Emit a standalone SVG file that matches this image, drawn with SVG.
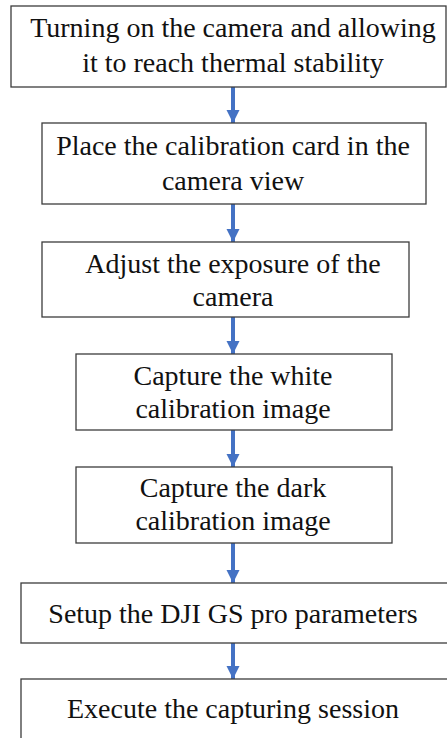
<svg xmlns="http://www.w3.org/2000/svg" width="447" height="738" viewBox="0 0 447 738">
  <style>
    .box { fill: #ffffff; stroke: #3c3c3c; stroke-width: 1.3; }
    text { font-family: "Liberation Serif", "Times New Roman", "DejaVu Serif", serif; font-size: 28px; fill: #111111; text-anchor: middle; }
    .flow { stroke: #4472c4; stroke-width: 4; fill: none; marker-end: url(#head); }
  </style>
  <defs>
    <!-- arrowhead pointing along the line direction; tip sits on the line end -->
    <marker id="head" markerUnits="userSpaceOnUse" markerWidth="14" markerHeight="14" viewBox="0 0 14 14" refX="13" refY="7" orient="auto">
      <path d="M0,0.5 L13,7 L0,13.5 Z" fill="#4472c4"/>
    </marker>
  </defs>
  <rect width="447" height="738" fill="#ffffff"/>

  <g id="connectors">
    <line class="flow" x1="233" y1="87" x2="233" y2="123"/>
    <line class="flow" x1="233" y1="204" x2="233" y2="242"/>
    <line class="flow" x1="233" y1="317" x2="233" y2="354"/>
    <line class="flow" x1="233" y1="430" x2="233" y2="467"/>
    <line class="flow" x1="233" y1="543" x2="233" y2="583"/>
    <line class="flow" x1="233" y1="643" x2="233" y2="679"/>
  </g>

  <g id="step1">
    <rect class="box" x="11" y="6" width="435" height="81"/>
    <text x="233" y="37">Turning on the camera and allowing</text>
    <text x="233" y="72">it to reach thermal stability</text>
  </g>
  <g id="step2">
    <rect class="box" x="42" y="123" width="384" height="81"/>
    <text x="233" y="155">Place the calibration card in the</text>
    <text x="233" y="190">camera view</text>
  </g>
  <g id="step3">
    <rect class="box" x="42" y="242" width="367" height="75"/>
    <text x="233" y="273">Adjust the exposure of the</text>
    <text x="233" y="306">camera</text>
  </g>
  <g id="step4">
    <rect class="box" x="76" y="354" width="316" height="76"/>
    <text x="233" y="385">Capture the white</text>
    <text x="233" y="418">calibration image</text>
  </g>
  <g id="step5">
    <rect class="box" x="76" y="467" width="316" height="76"/>
    <text x="233" y="497">Capture the dark</text>
    <text x="233" y="530">calibration image</text>
  </g>
  <g id="step6">
    <rect class="box" x="21" y="583" width="440" height="60"/>
    <text x="233" y="623">Setup the DJI GS pro parameters</text>
  </g>
  <g id="step7">
    <rect class="box" x="21" y="679" width="440" height="70"/>
    <text x="233" y="718">Execute the capturing session</text>
  </g>
</svg>
